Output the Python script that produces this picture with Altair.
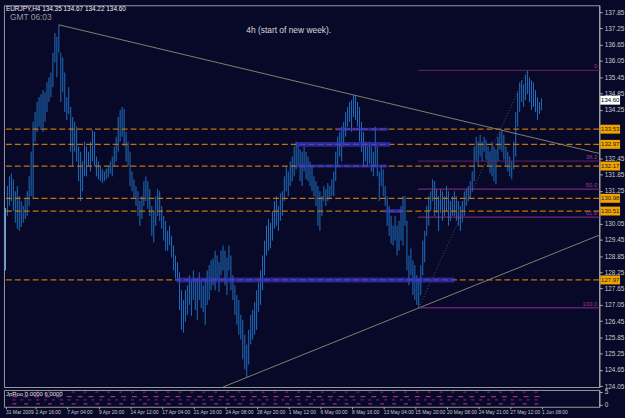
import altair as alt
import pandas as pd

BG = "#080828"
FONT = "Liberation Sans"

# ---- EURJPY H4 bars (high / low) ----
highs = [
    130.62, 131.43, 131.79, 131.90, 131.68, 131.24, 131.43, 131.06, 130.88, 130.70,
    130.95, 131.24, 131.79, 132.70, 133.80, 134.16, 134.53, 134.71, 134.82, 134.97,
    134.89, 135.26, 135.44, 135.62, 136.35, 137.08, 136.94, 137.38, 136.35, 136.17,
    135.62, 134.71, 135.08, 134.35, 133.98, 133.80, 133.62, 132.89, 132.70, 132.34,
    133.07, 132.89, 132.70, 133.07, 133.50, 133.43, 132.52, 132.34, 132.16, 132.05,
    131.97, 132.08, 132.16, 132.34, 132.52, 132.89, 133.25, 133.98, 134.24, 134.35,
    134.27, 133.43, 133.07, 132.70, 131.97, 131.68, 131.43, 131.24, 130.88, 131.06,
    131.61, 131.79, 131.61, 131.32, 130.70, 130.51, 131.06, 131.32, 131.24, 130.70,
    130.33, 130.15, 129.78, 129.97, 129.60, 129.24, 128.87, 128.62, 128.25, 127.59,
    127.23, 127.59, 127.77, 128.14, 127.96, 128.32, 127.96, 128.03, 128.25, 127.96,
    127.77, 127.96, 128.32, 128.51, 128.69, 128.76, 129.05, 128.87, 128.62, 129.05,
    129.24, 129.05, 128.80, 129.24, 128.87, 128.14, 127.77, 127.41, 127.23, 126.68,
    126.50, 125.95, 125.59, 126.13, 126.68, 126.86, 127.15, 127.59, 127.88, 128.32,
    128.87, 129.42, 129.97, 130.22, 130.08, 130.51, 130.88, 131.06, 130.70, 131.17,
    131.24, 131.79, 132.16, 131.97, 132.34, 132.52, 132.89, 133.07, 132.96, 132.78,
    132.70, 132.89, 132.70, 132.52, 132.34, 132.16, 131.79, 131.61, 131.43, 131.24,
    131.06, 131.43, 131.32, 131.54, 131.43, 131.68, 131.97, 132.70, 133.25, 133.43,
    133.62, 133.80, 134.16, 134.35, 134.53, 134.60, 134.78, 134.78, 134.53, 134.35,
    133.80, 133.43, 133.07, 132.89, 133.07, 132.89, 132.70, 133.62, 132.89, 131.97,
    132.16, 132.05, 131.43, 131.06, 130.70, 130.33, 129.97, 130.33, 129.97, 130.15,
    130.70, 131.06, 131.06, 130.15, 128.87, 129.13, 128.69, 128.51, 128.14, 127.96,
    128.51, 129.42, 129.78, 130.70, 131.06, 131.24, 131.68, 131.61, 131.32, 131.06,
    131.32, 131.24, 131.06, 131.43, 131.24, 130.88, 131.06, 131.24, 131.06, 130.88,
    130.70, 130.88, 131.24, 131.32, 131.43, 131.61, 131.97, 132.89, 133.25, 133.07,
    133.32, 133.07, 133.25, 133.14, 132.89, 132.70, 133.07, 132.89, 132.78, 133.25,
    133.43, 133.50, 133.32, 132.89, 132.70, 132.52, 132.34, 133.07, 134.16, 134.89,
    135.26, 135.33, 135.19, 135.55, 135.70, 135.44, 135.33, 135.26, 134.97, 134.71,
    134.53, 134.67,
]
lows = [
    128.32, 130.33, 130.70, 130.88, 130.51, 130.08, 129.86, 129.78, 129.93, 130.08,
    130.22, 130.33, 130.70, 131.06, 130.99, 133.07, 133.43, 133.62, 133.50, 133.43,
    133.80, 134.16, 134.53, 134.71, 135.08, 135.99, 135.44, 136.35, 134.53, 134.89,
    134.16, 133.87, 134.09, 132.70, 132.16, 132.70, 132.34, 131.61, 130.88, 131.24,
    131.79, 131.79, 132.16, 131.97, 132.34, 132.16, 131.79, 131.68, 131.61, 131.54,
    131.61, 131.68, 131.75, 131.90, 131.79, 132.16, 132.34, 132.70, 133.07, 133.25,
    132.89, 132.34, 132.16, 131.43, 131.24, 130.95, 130.70, 130.33, 129.97, 130.22,
    130.70, 130.88, 130.59, 130.33, 129.60, 129.35, 129.97, 130.33, 130.15, 129.86,
    129.42, 129.05, 129.05, 129.24, 128.80, 128.32, 128.03, 127.96, 126.86, 126.13,
    126.03, 126.43, 126.68, 127.05, 126.64, 127.23, 126.86, 126.50, 127.23, 126.93,
    126.79, 126.32, 127.05, 127.23, 127.59, 127.77, 127.59, 127.96, 127.52, 128.14,
    128.32, 127.77, 127.41, 128.32, 127.59, 127.23, 126.68, 126.32, 125.95, 125.77,
    125.04, 124.67, 124.38, 124.85, 125.59, 125.77, 125.95, 126.13, 126.79, 127.05,
    127.59, 128.14, 128.87, 129.05, 129.13, 129.42, 129.86, 129.97, 129.78, 130.15,
    130.33, 130.88, 131.24, 131.06, 131.43, 131.61, 131.79, 132.05, 132.19, 131.61,
    131.43, 131.97, 131.68, 131.61, 131.43, 131.24, 131.06, 130.70, 129.97, 129.78,
    130.33, 130.88, 130.70, 130.88, 130.95, 131.06, 131.06, 131.61, 132.16, 132.52,
    132.34, 132.89, 133.25, 133.62, 133.80, 133.43, 133.98, 133.87, 133.62, 133.07,
    132.70, 132.16, 132.34, 132.16, 132.27, 131.97, 131.79, 132.16, 131.79, 130.88,
    131.43, 131.06, 130.70, 129.97, 129.60, 129.31, 129.24, 129.42, 128.87, 129.05,
    129.42, 129.24, 129.97, 128.32, 127.77, 128.14, 127.41, 127.23, 127.05, 126.94,
    127.41, 128.14, 128.62, 129.60, 129.97, 130.51, 130.88, 130.33, 130.44, 129.78,
    130.44, 130.15, 130.33, 130.51, 129.97, 130.15, 130.33, 130.33, 130.15, 129.97,
    129.78, 130.08, 130.33, 130.70, 130.88, 130.95, 131.24, 131.61, 132.34, 132.16,
    132.52, 132.34, 132.70, 132.41, 132.16, 131.90, 131.79, 131.61, 131.50, 132.34,
    132.78, 132.70, 132.41, 132.16, 131.97, 131.79, 131.68, 132.05, 132.52, 133.62,
    134.16, 134.53, 134.35, 134.60, 134.82, 134.53, 134.24, 134.35, 134.16, 133.87,
    134.09, 134.22,
]

# ---- horizontal levels (orange dashed) and their price boxes ----
level_prices = [133.53, 132.97, 132.17, 130.98, 130.51, 127.97]
level_text = ["133.53", "132.97", "132.17", "130.98", "130.51", "127.97"]
current_price = 134.60
current_text = "134.60"

# ---- blue highlighted zones (bar index from/to) ----
hl_price = [133.53, 132.97, 132.17, 130.51, 127.97]
hl_from = [167.5, 147.0, 147.0, 192.0, 86.5]
hl_to = [193.5, 194.5, 193.0, 201.0, 227.0]
hl_w = [3, 5, 3, 4, 5]

# ---- trend lines ----
tl_x1 = [27, 110]
tl_p1 = [137.38, 124.02]
tl_x2 = [300.5, 300.5]
tl_p2 = [132.63, 129.63]

# ---- fibonacci ----
fib_low_bar, fib_low = 209, 126.94
fib_high_bar, fib_high = 264, 135.70
fib_levels = [0.0, 38.2, 50.0, 61.8, 100.0]
fib_names = ["0", "38.2", "50.0", "61.8", "100.0"]
fib_kind = ["dark", "dark", "main", "main", "main"]

# ---- axes ----
price_ticks = [137.85, 137.25, 136.65, 136.05, 135.45, 134.85, 134.25, 133.65,
               133.05, 132.45, 131.85, 131.25, 130.65, 130.05, 129.45, 128.85,
               128.25, 127.65, 127.05, 126.45, 125.85, 125.25, 124.65, 124.05]
hidden_ticks = [133.65, 133.05, 130.65]   # covered by the price boxes
time_ticks = [0, 15, 31, 47, 63, 79, 95, 111, 127, 143, 159, 175, 191, 207, 223, 239, 255, 271]
time_labels = ["31 Mar 2009", "2 Apr 16:00", "7 Apr 04:00", "9 Apr 20:00", "14 Apr 12:00",
               "17 Apr 04:00", "21 Apr 16:00", "24 Apr 08:00", "28 Apr 20:00", "1 May 12:00",
               "6 May 00:00", "8 May 16:00", "13 May 04:00", "15 May 20:00", "20 May 08:00",
               "24 May 21:00", "27 May 12:00", "1 Jun 08:00"]

# ---- sub window indicator ----
sub_names = ["g", "o", "c", "r"]
sub_values = [4.9, 3.2, 1.9, 0.4]
sub_colors = ["#2fc43f", "#e0a024", "#20a4e6", "#ea5a3a"]
sub_dash = [[3, 9], [5, 6], [3, 5], [4, 8]]
sub_from, sub_to = 3.5, 271

# ---------------------------------------------------------------
bars = pd.DataFrame({"i": list(range(len(highs))), "high": highs, "low": lows})
bars["first"] = bars["i"] == 0
levels = pd.DataFrame({"p": level_prices, "t": level_text})
hl = pd.DataFrame({"p": hl_price, "a": hl_from, "b": hl_to, "w": hl_w})
tl = pd.DataFrame({"x1": tl_x1, "p1": tl_p1, "x2": tl_x2, "p2": tl_p2})
fib = pd.DataFrame({"lvl": fib_levels, "name": fib_names, "kind": fib_kind})
fib["p"] = fib_high - (fib_high - fib_low) * fib["lvl"] / 100.0
fib["a"] = fib_low_bar - 0.5
fib["b"] = 300.5
fibbase = pd.DataFrame({"x1": [fib_low_bar], "p1": [fib_low], "x2": [fib_high_bar], "p2": [fib_high]})
cur = pd.DataFrame({"p": [current_price], "t": [current_text]})

xs = alt.Scale(domain=[-0.75, 300.25], nice=False, zero=False)
ys = alt.Scale(domain=[124.02, 138.10], nice=False, zero=False)
hid_expr = "indexof([" + ",".join(str(v) for v in hidden_ticks) + "], datum.value) >= 0 ? '' : format(datum.value, '.2f')"
yaxis = alt.Axis(orient="right", values=price_ticks, labelExpr=hid_expr, title=None, grid=False,
                 labelFont=FONT, labelFontSize=6.5, labelColor="#c8c8c8", tickColor="#b0b0b0",
                 tickSize=3, domainColor="#b0b0b0", labelPadding=2, labelOverlap=False,
                 labelBound=False, labelFlush=False, zindex=0)


def X(f):
    return alt.X(f, type="quantitative", scale=xs, axis=None)


def Y(f):
    return alt.Y(f, type="quantitative", scale=ys, axis=yaxis)


bar_layer = alt.Chart(bars).mark_rule(strokeWidth=1).encode(
    x=X("i"), y=Y("high"), y2="low",
    color=alt.condition("datum.first", alt.value("#5fb0ff"), alt.value("#1f70c0")),
)

level_layer = alt.Chart(levels).mark_rule(color="#c07406", strokeWidth=1.2, strokeDash=[6, 3]).encode(
    y=Y("p")
)

hl_layer = alt.Chart(hl).mark_rule(color="#3434cc", opacity=0.7).encode(
    x=X("a"), x2="b", y=Y("p"), strokeWidth=alt.StrokeWidth("w:Q", scale=None, legend=None)
)

tl_layer = alt.Chart(tl).mark_rule(color="#85806a", strokeWidth=1).encode(
    x=X("x1"), x2="x2", y=Y("p1"), y2="p2"
)

fibbase_layer = alt.Chart(fibbase).mark_rule(color="#50505a", strokeWidth=1, strokeDash=[1, 2]).encode(
    x=X("x1"), x2="x2", y=Y("p1"), y2="p2"
)

fib_layer = alt.Chart(fib).mark_rule(strokeWidth=1).encode(
    x=X("a"), x2="b", y=Y("p"),
    color=alt.Color("kind:N", scale=alt.Scale(domain=["dark", "main"], range=["#6e2456", "#8e3190"]),
                    legend=None),
)
fib_text = alt.Chart(fib).mark_text(align="right", baseline="bottom", dy=-1, fontSize=6,
                                    font=FONT, color="#9a3a9a").encode(
    x=alt.value(600), y=Y("p"), text="name:N"
)

box_layer = alt.Chart(levels).transform_calculate(
    lo="datum.p - 0.165", hi="datum.p + 0.165"
).mark_rect(color="#f0a400").encode(
    x=alt.value(603), x2=alt.value(623), y=Y("lo"), y2="hi"
)
box_text = alt.Chart(levels).mark_text(fontSize=6, font=FONT, color="#202020").encode(
    x=alt.value(613), y=Y("p"), text="t:N"
)
cur_box = alt.Chart(cur).transform_calculate(
    lo="datum.p - 0.165", hi="datum.p + 0.165"
).mark_rect(color="#ffffff").encode(
    x=alt.value(603), x2=alt.value(623), y=Y("lo"), y2="hi"
)
cur_text = alt.Chart(cur).mark_text(fontSize=6, font=FONT, color="#000000").encode(
    x=alt.value(613), y=Y("p"), text="t:N"
)

header = alt.Chart(pd.DataFrame({"t": ["EURJPY,H4  134.35 134.67 134.22 134.60"]})).mark_text(
    align="left", baseline="middle", fontSize=6.5, font=FONT, color="#f0f0f0"
).encode(x=alt.value(2), y=alt.value(4), text="t:N")
gmt = alt.Chart(pd.DataFrame({"t": ["GMT  06:03"]})).mark_text(
    align="left", baseline="middle", fontSize=8.5, font=FONT, color="#9a9a9a"
).encode(x=alt.value(6), y=alt.value(12), text="t:N")
note = alt.Chart(pd.DataFrame({"t": ["4h (start of new week)."]})).mark_text(
    align="left", baseline="middle", fontSize=8.5, font=FONT, color="#d8d8d8"
).encode(x=alt.value(245), y=alt.value(25), text="t:N")

main = alt.layer(
    bar_layer, level_layer, hl_layer, tl_layer, fibbase_layer, fib_layer, fib_text,
    box_layer, box_text, cur_box, cur_text, header, gmt, note
).properties(width=602, height=386)

# ---- sub window ----
sub_df = pd.DataFrame({"name": sub_names, "v": sub_values, "a": sub_from, "b": sub_to})
label_expr = "[" + ",".join("'%s'" % s for s in time_labels) + "][indexof([" + \
    ",".join(str(t) for t in time_ticks) + "], datum.value)]"
sub = alt.Chart(sub_df).mark_rule(strokeWidth=1.3).encode(
    x=alt.X("a:Q", scale=xs, axis=alt.Axis(values=time_ticks, labelExpr=label_expr, title=None,
                                            grid=False, labelAlign="left", labelBaseline="top",
                                            labelFont=FONT, labelFontSize=5, labelColor="#c8c8c8",
                                            tickColor="#b0b0b0", tickSize=2, domain=False,
                                            labelPadding=1, labelOverlap=False, labelBound=False,
                                            labelFlush=False)),
    x2="b",
    y=alt.Y("v:Q", scale=alt.Scale(domain=[-0.77, 5.77], nice=False, zero=False),
            axis=alt.Axis(orient="right", values=[0, 5], title=None, grid=False,
                          labelFont=FONT, labelFontSize=6.5, labelColor="#c8c8c8",
                          tickColor="#b0b0b0", tickSize=3, domainColor="#b0b0b0",
                          labelPadding=2, labelOverlap=False, labelBound=False, labelFlush=False)),
    color=alt.Color("name:N", scale=alt.Scale(domain=sub_names, range=sub_colors), legend=None),
    strokeDash=alt.StrokeDash("name:N", scale=alt.Scale(domain=sub_names, range=sub_dash), legend=None),
).properties(width=602, height=17)

sub_label = alt.Chart(pd.DataFrame({"t": ["JpRoo 0.0000 6.0000"]})).mark_text(
    align="left", baseline="middle", fontSize=6, font=FONT, color="#e0e0e0"
).encode(x=alt.value(2), y=alt.value(4), text="t:N")

sub_all = alt.layer(sub, sub_label).properties(width=602, height=17)

chart = alt.vconcat(main, sub_all, spacing=3, bounds="flush").resolve_scale(
    x="independent", y="independent"
).configure(
    background=BG, padding={"left": 2, "top": 2, "right": 0, "bottom": 0}
).configure_view(
    fill=BG, stroke="#9a9a9a", strokeWidth=1
)

chart.save("out.html", embed_options={"renderer": "svg", "actions": False})
